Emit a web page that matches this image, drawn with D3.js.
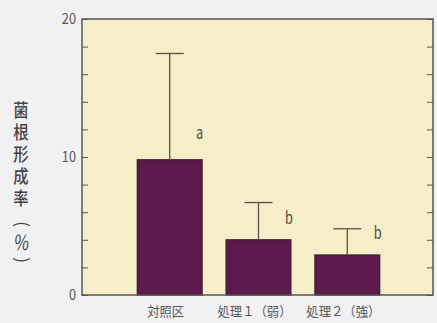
<!DOCTYPE html>
<html>
<head>
<meta charset="utf-8">
<script src="https://cdn.jsdelivr.net/npm/d3@7"></script>
<style>
  html, body { margin: 0; padding: 0; background: #f1f0f3; }
  svg { display: block; }
  text { font-family: "Noto Sans CJK JP", "Noto Sans", sans-serif; }
</style>
</head>
<body>
<svg id="chart" width="437" height="323"></svg>
<script>
// Mycorrhizal colonization rate by treatment (mean ± SD, with significance letters)
const categories = ["対照区", "処理１（弱）", "処理２（強）"];
const means = [9.8, 4.0, 2.9];
const errors = [7.7, 2.7, 1.9];
const letters = ["a", "b", "b"];
const yTickLabels = [0, 10, 20];
const yMinorTicks = [0, 2, 4, 6, 8, 10, 12, 14, 16, 18, 20];
const titleText = "菌根形成率";

const svg = d3.select("#chart");
const m = { left: 82, top: 19, right: 433, bottom: 295 };

const x = d3.scaleBand()
  .domain(categories)
  .range([m.left + 2, m.right])
  .paddingInner(0.27)
  .paddingOuter(0.6);

const y = d3.scaleLinear().domain([0, 20]).range([m.bottom, m.top]);

const axisColor = "#5a5550";
const textColor = "#555";

// plot background
svg.append("rect")
  .attr("x", m.left).attr("y", m.top)
  .attr("width", m.right - m.left).attr("height", m.bottom - m.top)
  .attr("fill", "#f6edc9");

// bars
svg.selectAll("rect.bar")
  .data(categories)
  .join("rect")
  .attr("class", "bar")
  .attr("x", d => x(d))
  .attr("width", x.bandwidth())
  .attr("y", (d, i) => y(means[i]))
  .attr("height", (d, i) => y(0) - y(means[i]))
  .attr("fill", "#5c1a4c")
  .attr("stroke", "#3e1830")
  .attr("stroke-width", 1.2);

// error bars (upper half) and significance letters
const cap = 14;
categories.forEach((c, i) => {
  const cx = x(c) + x.bandwidth() / 2;
  svg.append("line")
    .attr("x1", cx).attr("x2", cx)
    .attr("y1", y(means[i])).attr("y2", y(means[i] + errors[i]))
    .attr("stroke", "#5a5048").attr("stroke-width", 1.3);
  svg.append("line")
    .attr("x1", cx - cap).attr("x2", cx + cap)
    .attr("y1", y(means[i] + errors[i])).attr("y2", y(means[i] + errors[i]))
    .attr("stroke", "#5a5048").attr("stroke-width", 1.3);
  const lx = x(c) + x.bandwidth() - 6;
  const ly = y(means[i]) - (i === 0 ? 21 : 16);
  svg.append("text")
    .attr("transform", `translate(${lx},${ly}) scale(0.85,1.15)`)
    .attr("fill", "#4f4a44")
    .attr("font-family", "'Liberation Serif', serif")
    .attr("font-size", 15)
    .text(letters[i]);
});

// left axis with inward ticks
const yLeft = d3.axisLeft(y).tickValues(yMinorTicks).tickSize(-6).tickFormat("");
const gl = svg.append("g").attr("transform", `translate(${m.left},0)`).call(yLeft);
gl.select(".domain").remove();
gl.selectAll(".tick line").attr("stroke", axisColor).attr("stroke-width", 1);

// right axis with inward ticks
const yRight = d3.axisRight(y).tickValues(yMinorTicks).tickSize(-6).tickFormat("");
const gr = svg.append("g").attr("transform", `translate(${m.right},0)`).call(yRight);
gr.select(".domain").remove();
gr.selectAll(".tick line").attr("stroke", axisColor).attr("stroke-width", 1);

// frame
svg.append("rect")
  .attr("x", m.left).attr("y", m.top)
  .attr("width", m.right - m.left).attr("height", m.bottom - m.top)
  .attr("fill", "none").attr("stroke", axisColor).attr("stroke-width", 1.5);

// y tick labels
svg.selectAll("text.ylab")
  .data(yTickLabels)
  .join("text")
  .attr("class", "ylab")
  .attr("transform", d => `translate(${m.left - 6},${y(d)}) scale(0.85,1)`)
  .attr("dy", "0.36em")
  .attr("text-anchor", "end")
  .attr("fill", textColor)
  .attr("font-family", "'Liberation Sans', Arial, sans-serif")
  .attr("font-size", 15)
  .text(d => d);

// x category labels
svg.selectAll("text.xlab")
  .data(categories)
  .join("text")
  .attr("class", "xlab")
  .attr("transform", d => `translate(${x(d) + x.bandwidth() / 2 - 4},316) scale(0.95,1)`)
  .attr("text-anchor", "middle")
  .attr("fill", textColor)
  .attr("font-size", 13)
  .text(d => d);

// vertical y-axis title, then (%) with sideways brackets
const tx = 21;
const title = svg.append("g").attr("fill", "#444");
title.append("text")
  .attr("transform", `translate(${tx},101) scale(0.85,1)`)
  .attr("x", 0).attr("y", 0)
  .attr("font-size", 18)
  .attr("font-weight", 500)
  .style("writing-mode", "vertical-rl")
  .style("letter-spacing", "4px")
  .text(titleText);
title.append("text")
  .attr("transform", `translate(${tx},${224}) rotate(90)`)
  .attr("text-anchor", "middle")
  .attr("dy", "0.32em")
  .attr("font-family", "'Liberation Sans', sans-serif")
  .attr("font-size", 17)
  .text("(");
title.append("text")
  .attr("transform", `translate(${tx},${250}) scale(0.85,1.1) skewX(-8)`)
  .attr("text-anchor", "middle")
  .attr("font-family", "'Liberation Sans', sans-serif")
  .attr("font-size", 19)
  .text("%");
title.append("text")
  .attr("transform", `translate(${tx},${260}) rotate(90)`)
  .attr("text-anchor", "middle")
  .attr("dy", "0.32em")
  .attr("font-family", "'Liberation Sans', sans-serif")
  .attr("font-size", 17)
  .text(")");
</script>
</body>
</html>
